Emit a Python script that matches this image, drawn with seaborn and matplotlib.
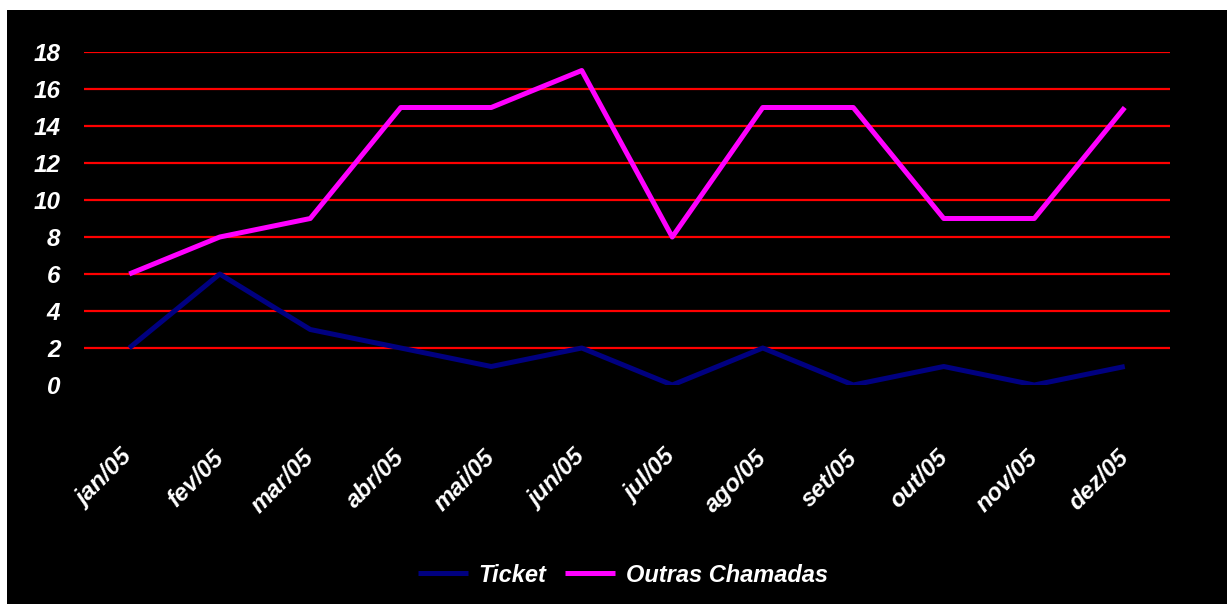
import matplotlib
matplotlib.use("Agg")
import matplotlib.pyplot as plt
import matplotlib.transforms as mtransforms
import seaborn as sns
import pandas as pd
from matplotlib.patches import Rectangle
from matplotlib.lines import Line2D

months = ["jan/05", "fev/05", "mar/05", "abr/05", "mai/05", "jun/05",
          "jul/05", "ago/05", "set/05", "out/05", "nov/05", "dez/05"]
ticket = [2, 6, 3, 2, 1, 2, 0, 2, 0, 1, 0, 1]
outras = [6, 8, 9, 15, 15, 17, 8, 15, 15, 9, 9, 15]
series_names = ["Ticket", "Outras Chamadas"]
yticks = [0, 2, 4, 6, 8, 10, 12, 14, 16, 18]

sns.set_theme(style="white")
plt.rcParams['font.family'] = ['Liberation Sans', 'DejaVu Sans']

FS = 17.5

df = pd.DataFrame({
    "x": list(range(len(months))) * 2,
    "valor": ticket + outras,
    "serie": [series_names[0]] * len(months) + [series_names[1]] * len(months),
})

fig = plt.figure(figsize=(12.27, 6.04), dpi=100, facecolor="white")
fig.patches.append(Rectangle((7 / 1227, 0), 1, 1 - 10 / 604, transform=fig.transFigure,
                             facecolor="black", edgecolor="none", zorder=-5))
ax = fig.add_axes([84 / 1227, 1 - 385 / 604, (1170 - 84) / 1227, (385 - 52) / 604])
ax.set_facecolor("black")

sns.lineplot(data=df, x="x", y="valor", hue="serie",
             palette={"Ticket": "#000080", "Outras Chamadas": "#FF00FF"},
             linewidth=3.6, ax=ax, legend=False, zorder=3)
for ln in ax.get_lines():
    ln.set_solid_capstyle("butt")

ax.set_xlim(-0.5, len(months) - 0.5)
ax.set_ylim(0, 18)
ax.set_yticks(yticks)
for y in yticks[1:]:
    ax.axhline(y, color="#FF0000", linewidth=1.6, zorder=1)
ax.set_xticks(range(len(months)))
ax.set_xticklabels(months, rotation=45, ha="right", rotation_mode="anchor")
ax.tick_params(axis="x", length=0, pad=44, labelsize=FS, labelcolor="white")
ax.tick_params(axis="y", length=0, pad=17, labelsize=FS, labelcolor="white")
offset = mtransforms.ScaledTranslation(-8 / 100, 0, fig.dpi_scale_trans)
for lab in ax.get_xticklabels():
    lab.set_transform(lab.get_transform() + offset)
for lab in ax.get_xticklabels() + ax.get_yticklabels():
    lab.set_fontweight("bold")
    lab.set_fontstyle("italic")
ax.set_xlabel("")
ax.set_ylabel("")
for s in ax.spines.values():
    s.set_visible(False)
ax.grid(False)

handles = [Line2D([], [], color="#000080", linewidth=3.6, solid_capstyle="butt"),
           Line2D([], [], color="#FF00FF", linewidth=3.6, solid_capstyle="butt")]
leg = fig.legend(handles, series_names, loc="center", bbox_to_anchor=(623 / 1227, 1 - 575 / 604),
                 ncol=2, frameon=False, handlelength=2.1, columnspacing=0.8, handletextpad=0.45,
                 prop={"size": 17, "weight": "bold", "style": "italic"})
for t in leg.get_texts():
    t.set_color("white")

fig.savefig("out.png", dpi=100, facecolor=fig.get_facecolor())
